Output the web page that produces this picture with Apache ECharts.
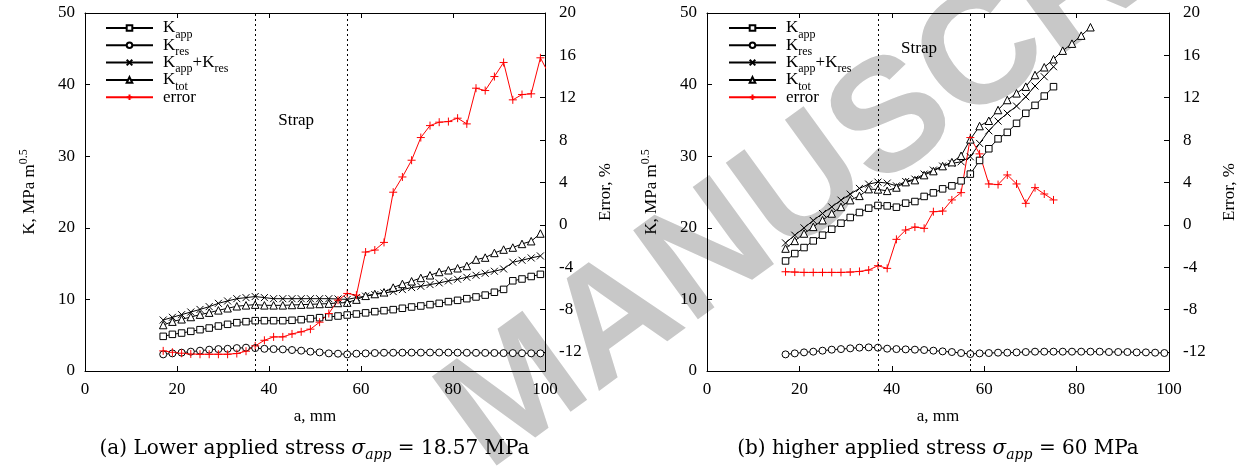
<!DOCTYPE html>
<html><head><meta charset="utf-8">
<script src="https://cdn.jsdelivr.net/npm/echarts@6/dist/echarts.min.js"></script>
<style>html,body{margin:0;padding:0;background:#fff}#c{width:1241px;height:466px}</style>
</head><body><div id="c"></div>
<script>
// ---------- data ----------
const xFull = [17,19,21,23,25,27,29,31,33,35,37,39,41,43,45,47,49,51,53,55,57,59,61,63,65,67,69,71,73,75,77,79,81,83,85,87,89,91,93,95,97,99];
const xErrA = [17,19,21,23,25,27,29,31,33,35,37,39,41,43,45,47,49,51,53,55,57,59,61,63,65,67,69,71,73,75,77,79,81,83,85,87,89,91,93,95,97,99,101];
const xTicks = [0,20,40,60,80,100];
const kTicks = [0,10,20,30,40,50];
const errTicks = [-12,-8,-4,0,4,8,12,16,20];
const strapLines = [37,57];

// panel (a): lower applied stress
const aKapp = [4.84,5.12,5.30,5.54,5.77,6.0,6.28,6.52,6.75,6.89,7.03,7.03,7.03,7.03,7.08,7.17,7.31,7.45,7.54,7.68,7.82,7.96,8.12,8.29,8.43,8.57,8.76,8.94,9.08,9.27,9.45,9.69,9.87,10.1,10.34,10.6,11.0,11.4,12.6,12.85,13.2,13.5];
const aKres = [2.32,2.46,2.56,2.7,2.84,2.98,3.06,3.1,3.2,3.26,3.2,3.1,3.06,3.02,2.93,2.84,2.7,2.6,2.46,2.42,2.32,2.42,2.46,2.51,2.55,2.55,2.56,2.57,2.57,2.58,2.58,2.57,2.56,2.55,2.54,2.53,2.52,2.5,2.5,2.48,2.47,2.46];
const aKsum = [7.12,7.5,7.87,8.24,8.6,8.99,9.45,9.78,10.1,10.25,10.4,10.25,10.1,10.1,10.1,10.1,10.1,10.1,10.1,10.06,10.0,10.25,10.45,10.67,10.9,11.09,11.37,11.65,11.83,12.07,12.3,12.58,12.81,13.09,13.37,13.65,13.93,14.25,15.19,15.47,15.79,16.07];
const aKtot = [6.42,6.89,7.22,7.54,7.87,8.15,8.47,8.76,9.04,9.17,9.27,9.17,9.17,9.17,9.22,9.27,9.31,9.36,9.41,9.5,9.55,9.97,10.5,10.75,10.99,11.65,12.16,12.53,13.0,13.37,13.83,14.07,14.35,14.67,15.56,15.84,16.49,16.96,17.24,17.75,18.13,19.2];
const aErr = [-11.9,-12.03,-12.12,-12.19,-12.22,-12.22,-12.22,-12.22,-12.15,-11.93,-11.43,-10.9,-10.58,-10.58,-10.3,-10.1,-9.85,-9.19,-8.37,-7.11,-6.48,-6.64,-2.57,-2.38,-1.66,3.08,4.52,6.1,8.24,9.37,9.69,9.75,10.07,9.53,12.9,12.68,14.0,15.33,11.8,12.3,12.37,15.77,14.1];

// panel (b): higher applied stress
const bKapp = [15.37,16.4,17.24,18.17,18.97,19.8,20.64,21.44,22.14,22.74,23.12,23.06,22.88,23.44,23.67,24.38,24.88,25.44,25.86,26.56,27.5,29.41,31.04,32.43,33.33,34.59,35.99,37.1,38.4,39.71];
const bKres = [2.32,2.46,2.6,2.7,2.84,2.98,3.06,3.16,3.26,3.3,3.26,3.12,3.06,3.02,2.98,2.93,2.84,2.74,2.65,2.51,2.37,2.46,2.51,2.56,2.56,2.6,2.65,2.7,2.7,2.7,2.7,2.7,2.7,2.7,2.7,2.65,2.65,2.65,2.6,2.6,2.56,2.51];
const bKsum = [17.89,18.97,19.99,21.02,22.0,22.92,23.86,24.7,25.5,26.1,26.38,26.24,25.86,26.47,26.8,27.5,28.06,28.62,28.99,29.22,29.92,31.79,33.55,34.9,35.99,37.0,38.3,39.8,41.1,42.5];
const bKtot = [17.1,18.17,19.2,20.13,21.06,22.0,22.92,23.86,24.46,25.4,25.36,25.16,25.63,26.38,26.66,27.36,27.92,28.62,29.17,30.06,32.35,34.21,34.95,36.45,37.85,38.78,39.71,41.34,42.42,43.54,44.74,45.72,46.84,48.01];
const bErr = [-4.43,-4.46,-4.49,-4.49,-4.49,-4.49,-4.49,-4.46,-4.4,-4.27,-3.86,-4.11,-1.37,-0.49,-0.21,-0.33,1.24,1.3,2.35,3.04,8.24,6.7,3.86,3.8,4.71,3.86,2.03,3.51,2.91,2.35];

const seriesNames = ['K_app','K_res','K_app+K_res','K_tot','error'];
const legendRich = {'K_app':'{k|K}{s|app}','K_res':'{k|K}{s|res}','K_app+K_res':'{k|K}{s|app}{k|+K}{s|res}','K_tot':'{k|K}{s|tot}','error':'{k|error}'};

// ---------- styling ----------
const F = 'Liberation Serif';
const SYM_X = 'path://M0,0L10,10M10,0L0,10';
const SYM_PLUS = 'path://M5,0L5,10M0,5L10,5';
const pairs = (xs, ys) => ys.map((y, i) => [xs[i], y]);

function ser(name, xs, ys, xi, yi, symbol, size, color, extra) {
  return Object.assign({
    type: 'line', name, xAxisIndex: xi, yAxisIndex: yi,
    data: pairs(xs, ys), symbol, symbolSize: size, showAllSymbol: true,
    lineStyle: { color, width: 1 },
    itemStyle: { color: symbol.startsWith('path') ? color : '#fff', borderColor: color, borderWidth: 1 },
    emphasis: { disabled: true }, animation: false, z: 3
  }, extra || {});
}

function deco(strapY) {
  return {
    markLine: { silent: true, symbol: ['none','none'], label: { show: false },
      lineStyle: { color: '#000', type: [2,3], width: 1 }, emphasis: { disabled: true },
      data: strapLines.map(v => ({ xAxis: v })), animation: false },
    markPoint: { silent: true, symbol: 'rect', symbolSize: 0,
      data: [{ coord: [42, strapY] }],
      label: { show: true, formatter: 'Strap', position: 'right', distance: 0, color: '#000', fontFamily: F, fontSize: 17 },
      animation: false }
  };
}

function panelSeries(xi, yK, yE, Kapp, Kres, Ksum, Ktot, Err, xErr, strapY) {
  return [
    ser('K_app', xFull, Kapp, xi, yK, 'rect', 6.5, '#000', deco(strapY)),
    ser('K_res', xFull, Kres, xi, yK, 'circle', 7, '#000'),
    ser('K_app+K_res', xFull, Ksum, xi, yK, SYM_X, 7, '#000'),
    ser('K_tot', xFull, Ktot, xi, yK, 'triangle', 7.5, '#000'),
    ser('error', xErr, Err, xi, yE, SYM_PLUS, 8, '#ff0000')
  ];
}

const tickStyle = { show: true, inside: true, length: 5, lineStyle: { color: '#000', width: 1 } };
const lineStyle = { show: true, onZero: false, lineStyle: { color: '#000', width: 1 } };
const lbl = { color: '#000', fontFamily: F, fontSize: 17 };

function xAxes(g) {
  return [
    { gridIndex: g, type: 'value', min: xTicks[0], max: xTicks[xTicks.length-1], interval: 20, position: 'bottom',
      axisLine: lineStyle, axisTick: tickStyle, axisLabel: Object.assign({ margin: 10 }, lbl), splitLine: { show: false },
      name: 'a, mm', nameLocation: 'middle', nameGap: 37, nameTextStyle: lbl },
    { gridIndex: g, type: 'value', min: xTicks[0], max: xTicks[xTicks.length-1], interval: 20, position: 'top',
      axisLine: lineStyle, axisTick: tickStyle, axisLabel: { show: false }, splitLine: { show: false } }
  ];
}
function yAxes(g) {
  return [
    { gridIndex: g, type: 'value', min: kTicks[0], max: kTicks[kTicks.length-1], interval: 10, position: 'left',
      axisLine: lineStyle, axisTick: tickStyle, axisLabel: Object.assign({ margin: 10 }, lbl), splitLine: { show: false },
      name: '{n|K, MPa m}{s|0.5}', nameLocation: 'middle', nameGap: 47,
      nameTextStyle: { color: '#000', rich: {
        n: { fontFamily: F, fontSize: 17, lineHeight: 17, verticalAlign: 'bottom', color: '#000' },
        s: { fontFamily: F, fontSize: 12, padding: [0,0,8,0], verticalAlign: 'top', color: '#000' } } } },
    { gridIndex: g, type: 'value', min: -13.8, max: 20, position: 'right',
      axisLine: lineStyle, axisTick: Object.assign({ customValues: errTicks }, tickStyle),
      axisLabel: Object.assign({ margin: 14, customValues: errTicks }, lbl), splitLine: { show: false },
      name: 'Error, %', nameLocation: 'middle', nameGap: 52, nameTextStyle: lbl }
  ];
}

function legend(left) {
  return {
    left, top: 19.5, orient: 'vertical', padding: 0, itemGap: -3.7, itemWidth: 47, itemHeight: 7,
    selectedMode: false, data: seriesNames, formatter: n => legendRich[n],
    textStyle: { color: '#000', fontFamily: F, fontSize: 17, padding: [0,0,0,5], rich: {
      k: { fontFamily: F, fontSize: 17, lineHeight: 25, verticalAlign: 'middle', color: '#000' },
      s: { fontFamily: F, fontSize: 12, lineHeight: 12, verticalAlign: 'bottom', color: '#000' } } }
  };
}

function caption(x, label, value) {
  return { type: 'text', x, y: 449, z: 5, style: {
    text: '{r|' + label + ' }{m|σ}{ms|app}{r| = ' + value + '}',
    textAlign: 'center', textVerticalAlign: 'middle',
    rich: {
      r: { fontFamily: 'DejaVu Serif', fontSize: 20, fill: '#000', lineHeight: 26 },
      m: { fontFamily: 'DejaVu Serif', fontStyle: 'italic', fontSize: 20, fill: '#000', lineHeight: 26 },
      ms: { fontFamily: 'DejaVu Serif', fontStyle: 'italic', fontSize: 14, fill: '#000', lineHeight: 14, verticalAlign: 'bottom' }
    } } };
}

const chart = echarts.init(document.getElementById('c'), null, { renderer: 'canvas' });
chart.setOption({
  animation: false,
  backgroundColor: '#fff',
  grid: [ { left: 85, top: 13, width: 460, height: 358 }, { left: 707, top: 13, width: 462, height: 358 } ],
  xAxis: xAxes(0).concat(xAxes(1)),
  yAxis: yAxes(0).concat(yAxes(1)),
  legend: [ legend(105), legend(728) ],
  series: panelSeries(0, 0, 1, aKapp, aKres, aKsum, aKtot, aErr, xErrA, 35)
    .concat(panelSeries(2, 2, 3, bKapp, bKres, bKsum, bKtot, bErr, xFull, 45)),
  graphic: [
    { type: 'text', x: 462, y: 436, rotation: 36 * Math.PI / 180, z: -10, silent: true,
      style: { text: 'MANUSCRIPT', font: 'bold 160px "Liberation Sans"', fill: '#c8c8c8', textAlign: 'left', textVerticalAlign: 'middle' } },
    caption(314.5, '(a) Lower applied stress', '18.57 MPa'),
    caption(938, '(b) higher applied stress', '60 MPa')
  ]
});
</script>
</body></html>
